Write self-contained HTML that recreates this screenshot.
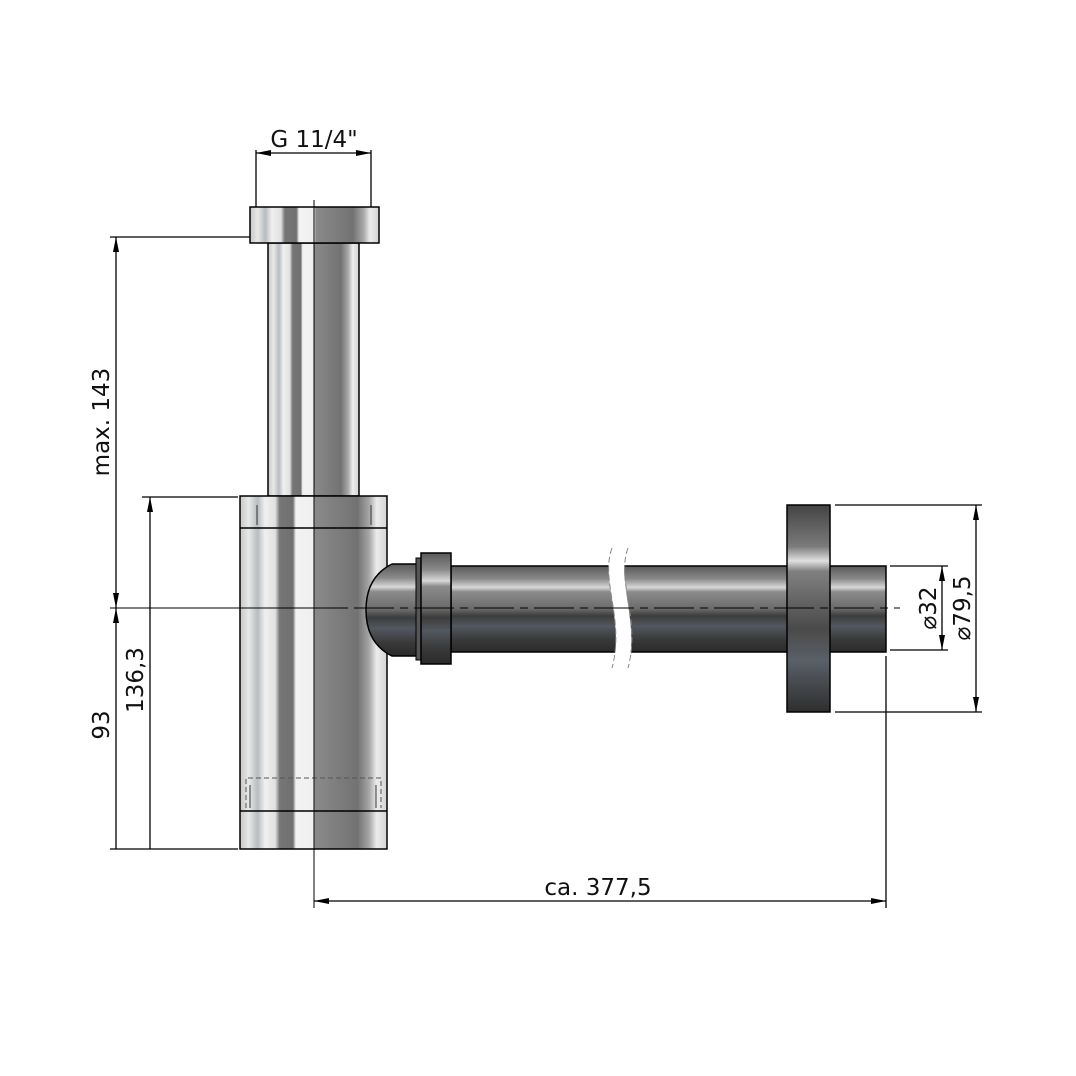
<!DOCTYPE html>
<html><head><style>html,body{margin:0;padding:0;background:#fff}svg{display:block}</style></head>
<body>
<svg width="1076" height="1076" viewBox="0 0 1076 1076" xmlns="http://www.w3.org/2000/svg" font-family="'DejaVu Sans','Liberation Sans',sans-serif">
<defs>
<linearGradient id="chrome" x1="0" x2="1" y1="0" y2="0">
<stop offset="0" stop-color="#c8c8c8"/><stop offset="0.06" stop-color="#e8e8e8"/>
<stop offset="0.12" stop-color="#b8bcc0"/><stop offset="0.17" stop-color="#f0f0f0"/>
<stop offset="0.24" stop-color="#e0e0e0"/><stop offset="0.27" stop-color="#767676"/>
<stop offset="0.36" stop-color="#707070"/><stop offset="0.38" stop-color="#f2f2f2"/>
<stop offset="0.5" stop-color="#f0f0f0"/><stop offset="0.51" stop-color="#8a8a8a"/>
<stop offset="0.8" stop-color="#727272"/><stop offset="0.88" stop-color="#a8a8a8"/>
<stop offset="0.93" stop-color="#ececec"/><stop offset="1" stop-color="#d4d4d4"/>
</linearGradient>
<linearGradient id="dark" x1="0" x2="0" y1="0" y2="1">
<stop offset="0" stop-color="#5a5a5a"/><stop offset="0.15" stop-color="#8a8a8a"/>
<stop offset="0.25" stop-color="#d8d8d8"/><stop offset="0.3" stop-color="#8c8c8c"/>
<stop offset="0.5" stop-color="#6a6a6a"/><stop offset="0.58" stop-color="#3c3c3c"/>
<stop offset="0.7" stop-color="#525860"/><stop offset="0.85" stop-color="#3a3a3a"/>
<stop offset="1" stop-color="#2a2a2a"/>
</linearGradient>
<linearGradient id="flange" x1="0" x2="0" y1="0" y2="1">
<stop offset="0" stop-color="#444"/><stop offset="0.2" stop-color="#7a7a7a"/>
<stop offset="0.27" stop-color="#e0e0e0"/><stop offset="0.32" stop-color="#808080"/>
<stop offset="0.6" stop-color="#4a4a4a"/><stop offset="0.75" stop-color="#5a6068"/>
<stop offset="1" stop-color="#2e2e2e"/>
</linearGradient>
<marker id="ar" viewBox="0 0 10 4" refX="10" refY="2" markerWidth="16" markerHeight="6" markerUnits="userSpaceOnUse" orient="auto-start-reverse"><path d="M0,0 L10,2 L0,4z" fill="#000"/></marker>
</defs>

<rect x="268" y="243" width="91" height="253" fill="url(#chrome)" stroke="#000" stroke-width="1.5"/>
<rect x="250" y="207" width="129" height="36" fill="url(#chrome)" stroke="#000" stroke-width="1.5"/>
<rect x="240" y="496" width="147" height="353" fill="url(#chrome)" stroke="#000" stroke-width="1.5"/>
<line x1="240" y1="528" x2="387" y2="528" stroke="#000" stroke-width="1.5"/>
<line x1="240" y1="811" x2="387" y2="811" stroke="#000" stroke-width="1.5"/>
<path d="M246,808 V778 H381 V808" fill="none" stroke="#555" stroke-dasharray="5,3"/>
<path d="M257,505 V525 M371,505 V525 M250,785 V808 M376,785 V808" stroke="#333"/>

<rect x="451" y="566" width="435" height="86" fill="url(#dark)" stroke="#000" stroke-width="1.5"/>
<path d="M612,545 C600,580 625,620 612,670 L628,670 C640,620 615,580 628,545z" fill="#fff"/>
<path d="M612,548 C600,580 625,620 612,668 M628,548 C616,580 641,620 628,668" fill="none" stroke="#888" stroke-dasharray="6,3"/>
<path d="M418,564 H392 C372,574 366,592 366,610 C366,628 372,646 392,656 H418z" fill="url(#dark)" stroke="#000" stroke-width="1.5"/>
<rect x="416" y="558" width="6" height="102" fill="#555" stroke="#000"/>
<rect x="421" y="553" width="30" height="111" fill="url(#dark)" stroke="#000" stroke-width="1.5"/>
<rect x="787" y="505" width="43" height="207" fill="url(#flange)" stroke="#000" stroke-width="1.5"/>

<g stroke="#000" stroke-width="1">
<line x1="110" y1="608" x2="348" y2="608"/>
<line x1="354" y1="608" x2="900" y2="608" stroke-dasharray="40,6,8,6"/>
<line x1="314" y1="200" x2="314" y2="908"/>
</g>

<g stroke="#000" stroke-width="1.3" fill="none">
<line x1="256" y1="150" x2="256" y2="207"/><line x1="371" y1="150" x2="371" y2="207"/>
<line x1="256" y1="153" x2="371" y2="153" marker-start="url(#ar)" marker-end="url(#ar)"/>
<line x1="110" y1="237" x2="250" y2="237"/>
<line x1="142" y1="497" x2="238" y2="497"/>
<line x1="110" y1="849" x2="238" y2="849"/>
<line x1="116" y1="237" x2="116" y2="608" marker-start="url(#ar)" marker-end="url(#ar)"/>
<line x1="116" y1="608" x2="116" y2="849" marker-start="url(#ar)"/>
<line x1="150" y1="497" x2="150" y2="849" marker-start="url(#ar)"/>
<line x1="886" y1="656" x2="886" y2="908"/>
<line x1="314" y1="901" x2="886" y2="901" marker-start="url(#ar)" marker-end="url(#ar)"/>
<line x1="835" y1="505" x2="982" y2="505"/><line x1="835" y1="712" x2="982" y2="712"/>
<line x1="890" y1="566" x2="948" y2="566"/><line x1="890" y1="650" x2="948" y2="650"/>
<line x1="942" y1="566" x2="942" y2="650" marker-start="url(#ar)" marker-end="url(#ar)"/>
<line x1="976" y1="505" x2="976" y2="712" marker-start="url(#ar)" marker-end="url(#ar)"/>
</g>

<g font-size="23" fill="#111">
<text x="314" y="147" text-anchor="middle">G 11/4"</text>
<text x="598" y="895" text-anchor="middle">ca. 377,5</text>
<text transform="translate(109,422) rotate(-90)" text-anchor="middle">max. 143</text>
<text transform="translate(143,680) rotate(-90)" text-anchor="middle">136,3</text>
<text transform="translate(109,725) rotate(-90)" text-anchor="middle">93</text>
<text transform="translate(936,608) rotate(-90)" text-anchor="middle">⌀32</text>
<text transform="translate(970,608) rotate(-90)" text-anchor="middle">⌀79,5</text>
</g>
</svg>
</body></html>
